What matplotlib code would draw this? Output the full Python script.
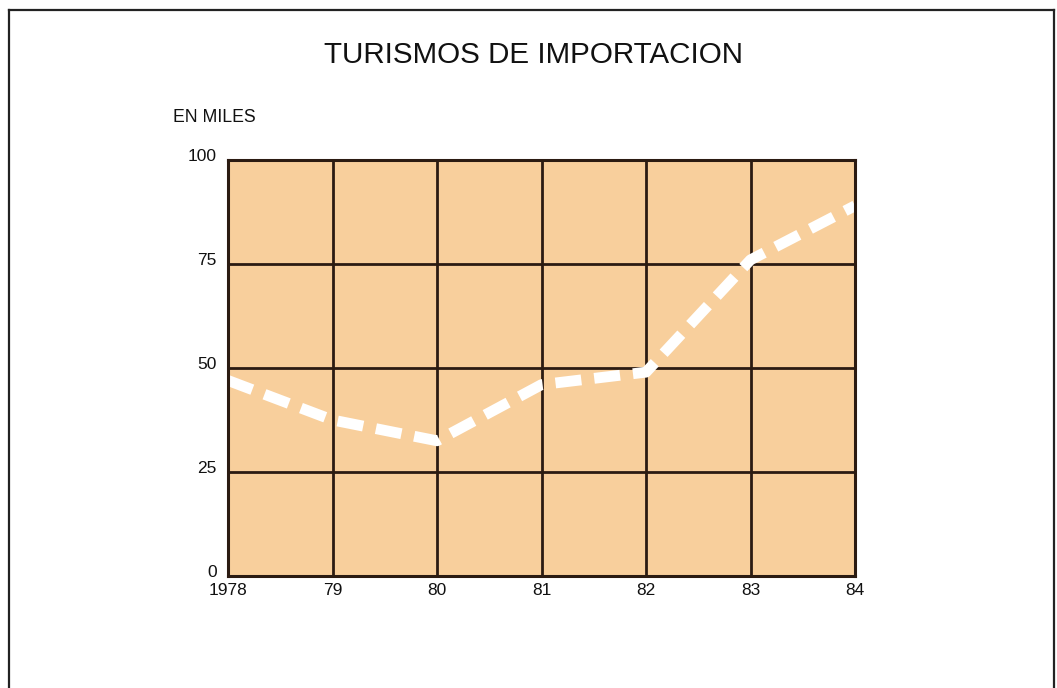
import matplotlib.pyplot as plt
from matplotlib.lines import Line2D
from matplotlib.transforms import ScaledTranslation

years = [1978, 1979, 1980, 1981, 1982, 1983, 1984]
year_labels = ["1978", "79", "80", "81", "82", "83", "84"]
importados = [47, 37.5, 32.5, 46, 49, 76, 89]
y_ticks = [0, 25, 50, 75, 100]

plt.rcParams['font.family'] = ['Liberation Sans', 'DejaVu Sans']

fig = plt.figure(figsize=(10.57, 6.88), dpi=100)
fig.patch.set_facecolor("white")

# marco de la pagina (abierto por abajo)
frame = "#222222"
fig.add_artist(Line2D([9/1057, 9/1057], [0, 1 - 10/688], color=frame, lw=1.6, transform=fig.transFigure))
fig.add_artist(Line2D([1054/1057, 1054/1057], [0, 1 - 10/688], color=frame, lw=1.6, transform=fig.transFigure))
fig.add_artist(Line2D([9/1057, 1054/1057], [1 - 10/688, 1 - 10/688], color=frame, lw=1.6, transform=fig.transFigure))

ax = fig.add_axes([228/1057, 1 - 576/688, 627/1057, 416/688])
ax.set_facecolor("#f8cf9c")
ax.set_xlim(years[0], years[-1])
ax.set_ylim(0, 100)

grid_c = "#2b1b12"
ax.set_xticks(years)
ax.set_xticklabels(year_labels)
ax.set_yticks(y_ticks)
ax.grid(True, color=grid_c, lw=2.0)
ax.set_axisbelow(True)
for s in ax.spines.values():
    s.set_color(grid_c)
    s.set_linewidth(2.2)
ax.tick_params(length=0, labelsize=12.5, colors="#111111")
ax.tick_params(axis="y", pad=8)
ax.tick_params(axis="x", pad=5)

# las etiquetas del eje y van un poco por encima de la linea
shift = ScaledTranslation(0, 5/100, fig.dpi_scale_trans)
for lab in ax.get_yticklabels():
    lab.set_transform(lab.get_transform() + shift)

ax.plot(years, importados, color="white", lw=7.8, dashes=(2.4, 1.2),
        solid_capstyle="butt", dash_capstyle="butt", clip_on=True)

fig.text(533/1057, 1 - 55/688, "TURISMOS DE IMPORTACION", ha="center", va="center",
         fontsize=21.3, color="#111111")
fig.text(173/1057, 1 - 118/688, "EN MILES", ha="left", va="center",
         fontsize=12.7, color="#111111")

fig.savefig("out.png", dpi=100)
